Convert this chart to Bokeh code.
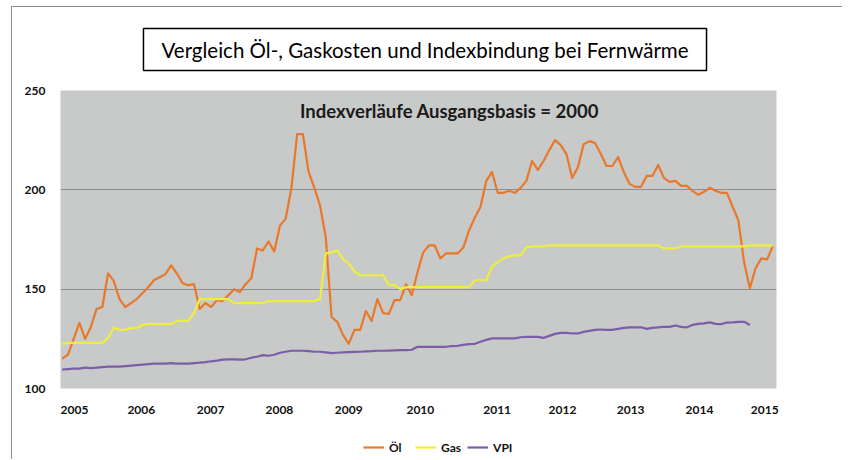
from bokeh.plotting import figure
from bokeh.layouts import column
from bokeh.models import Range1d, FixedTicker, Label, Legend, LegendItem
from bokeh.embed import file_html
from bokeh.resources import INLINE

# Monthly index values, month 0 = Jan 2005
oil = [115, 117, 125, 133, 125, 131, 140, 141, 158, 154, 145, 141,
       143, 145, 148, 151, 154.5, 156, 157.5, 162, 158, 153, 152, 152.5,
       140, 143, 141, 144.5, 144, 147, 150, 148.5, 152.5, 155.5, 170.5, 169.5,
       174, 169, 182, 185.5, 201, 228, 228, 209, 201, 192, 176, 136,
       133.5, 127, 122.5, 129.5, 129.5, 139, 134, 145, 138, 137.5, 144.5, 144.5,
       152.5, 147, 158.5, 168.5, 172, 172, 165.5, 168, 168, 168, 171, 179.5,
       186, 191.5, 204.5, 209, 198.5, 198.5, 199.5, 198.5, 201, 204.5, 214.5, 210,
       214.5, 220, 225, 222.5, 218, 206, 211.5, 223, 224.5, 223.5, 218, 212,
       212, 216.5, 209, 203, 201.5, 201.5, 207, 207, 212.5, 206, 204, 204.5,
       202, 202, 199.5, 197.5, 199, 201, 199.5, 198.5, 198.5, 191.5, 184.5, 163.5,
       150.5, 160.5, 165.5, 165, 171.5]

gas = [122.5, 123, 123, 123, 123, 123, 123, 123, 125.5, 130.5, 129.5, 129.5,
       130.5, 130.5, 132, 132.5, 132.5, 132.5, 132.5, 132.5, 134, 134, 134, 138,
       145, 145, 145, 145, 145, 145, 143, 143, 143, 143, 143, 143,
       144, 144, 144, 144, 144, 144, 144, 144, 144, 145, 168, 168.5,
       169.5, 165, 163, 159, 157, 157, 157, 157, 157, 152, 152, 150,
       151, 151, 151, 151, 151, 151, 151, 151, 151, 151, 151, 151,
       154.5, 154.5, 154.5, 161.5, 163.5, 165.5, 166.5, 167, 167, 171, 171.5, 171.5,
       171.5, 172, 172, 172, 172, 172, 172, 172, 172, 172, 172, 172,
       172, 172, 172, 172, 172, 172, 172, 172, 172, 170.5, 170.5, 170.5,
       171.5, 171.5, 171.5, 171.5, 171.5, 171.5, 171.5, 171.5, 171.5, 171.5, 171.5, 171.5,
       172, 172, 172, 172, 172]

vpi = [109.5, 109.8, 110, 110, 110.5, 110.3, 110.5, 110.8, 111, 111, 111, 111.3,
       111.5, 111.8, 112, 112.3, 112.5, 112.5, 112.5, 112.8, 112.5, 112.5, 112.5, 112.8,
       113, 113.3, 113.7, 114, 114.5, 114.7, 114.7, 114.5, 114.7, 115.5, 116, 116.8,
       116.5, 117, 118, 118.5, 119, 119, 119, 118.8, 118.5, 118.5, 118.2, 117.8,
       118, 118.2, 118.3, 118.4, 118.5, 118.7, 118.8, 119, 119, 119.1, 119.2, 119.3,
       119.3, 119.5, 121, 121, 121, 121, 121, 121, 121.3, 121.5, 122, 122.3,
       122.5, 123.5, 124.5, 125.2, 125.2, 125.2, 125.2, 125.2, 125.8, 126, 126, 126,
       125.5, 126.5, 127.5, 128, 128, 127.7, 127.7, 128.5, 129, 129.5, 129.7, 129.5,
       129.5, 130, 130.5, 130.8, 130.8, 130.8, 130, 130.5, 130.8, 131, 131, 131.7,
       131, 130.8, 132, 132.5, 132.8, 133.3, 132.5, 132.4, 133.2, 133.3, 133.5, 133.6,
       132]

months_oil = list(range(len(oil)))
months_gas = list(range(len(gas)))
months_vpi = list(range(len(vpi)))

year_labels = ["2005", "2006", "2007", "2008", "2009", "2010",
               "2011", "2012", "2013", "2014", "2015"]
year_label_pos = [2.15, 13.8, 25.9, 37.9, 50.0, 62.5, 75.9, 87.3, 99.2, 111.2, 122.6]
y_ticks = [100, 150, 200, 250]

series_names = ["Öl", "Gas", "VPI"]
series_colors = ["#e8782a", "#eeee3c", "#7a5ea8"]

FONT = "Lato"
W = 830
NAN = float("nan")


def blank_fig(h):
    f = figure(width=W, height=h, output_backend="svg", toolbar_location=None,
               x_range=Range1d(0, 1), y_range=Range1d(0, 1),
               min_border=0, min_border_left=0, min_border_right=0,
               min_border_top=0, min_border_bottom=0)
    f.axis.visible = False
    f.grid.grid_line_color = None
    f.outline_line_color = None
    f.background_fill_color = "white"
    f.border_fill_color = "white"
    return f


# ---- title strip (frame aligned with the main chart's frame) ----
p_top = blank_fig(73)
p_top.add_layout(Label(x=364.5, y=31, x_units="screen", y_units="screen",
                       text="Vergleich Öl-, Gaskosten und Indexbindung bei Fernwärme",
                       text_align="center", text_baseline="middle",
                       text_font=FONT, text_font_size="20.5px", text_color="black",
                       border_line_color="black", border_line_width=1.5,
                       background_fill_color="white",
                       padding=dict(left=18, right=18, top=9, bottom=9)))

# ---- main chart ----
p = figure(width=W, height=352, output_backend="svg", toolbar_location=None,
           x_range=Range1d(-0.3, 124.65), y_range=Range1d(100, 250),
           min_border_left=48, min_border_right=66, min_border_top=10,
           min_border_bottom=44)
p.background_fill_color = "#c8c9c9"
p.border_fill_color = "white"
p.outline_line_color = None

p.xgrid.grid_line_color = None
p.ygrid.ticker = FixedTicker(ticks=y_ticks)
p.ygrid.grid_line_color = "#8e8e8e"
p.ygrid.grid_line_width = 1

p.xaxis.ticker = FixedTicker(ticks=year_label_pos)
p.xaxis.major_label_overrides = {pos: lab for pos, lab in zip(year_label_pos, year_labels)}
p.yaxis.ticker = FixedTicker(ticks=y_ticks)
for ax in (p.xaxis, p.yaxis):
    ax.axis_line_color = None
    ax.major_tick_line_color = None
    ax.minor_tick_line_color = None
    ax.major_label_text_font = FONT
    ax.major_label_text_font_style = "bold"
    ax.major_label_text_color = "#111111"
    ax.major_label_text_font_size = "12px"
p.xaxis.major_label_standoff = 11
p.yaxis.major_label_standoff = 9

p.line(months_oil, oil, line_color=series_colors[0], line_width=2.2, line_join="round")
p.line(months_gas, gas, line_color=series_colors[1], line_width=2.2, line_join="round")
p.line(months_vpi, vpi, line_color=series_colors[2], line_width=2.2, line_join="round")

p.add_layout(Label(x=389, y=278, x_units="screen", y_units="screen",
                   text="Indexverläufe Ausgangsbasis = 2000",
                   text_align="center", text_baseline="middle",
                   text_font=FONT, text_font_size="18.5px", text_font_style="bold",
                   text_color="#1a1a1a"))

# ---- legend strip (proxy renderers hold one NaN point, so they draw nothing) ----
p_leg = blank_fig(27)
items = []
for name, col in zip(series_names, series_colors):
    r = p_leg.line(x=[NAN], y=[NAN], line_color=col, line_width=2.2)
    items.append(LegendItem(label=name, renderers=[r]))
p_leg.add_layout(Legend(items=items, location=(303, 4), orientation="horizontal",
                        border_line_color=None, background_fill_alpha=0,
                        padding=0, margin=0, spacing=6, label_standoff=5,
                        glyph_width=21, glyph_height=16, label_height=16,
                        label_text_font=FONT, label_text_font_style="bold",
                        label_text_font_size="12px", label_text_color="#111111"))

layout = column(p_top, p, p_leg, spacing=0)
layout.margin = (6, 0, 0, 11)
layout.styles = {"border-left": "1px solid #8c8c8c", "border-top": "1px solid #8c8c8c"}

open("out.html", "w").write(file_html(layout, INLINE))
